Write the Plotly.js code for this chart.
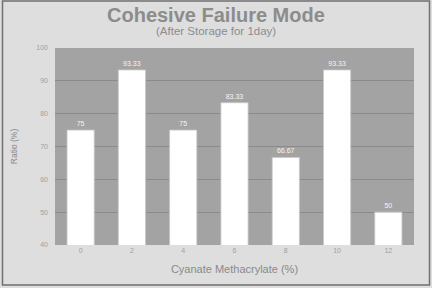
<!DOCTYPE html>
<html><head><meta charset="utf-8">
<script src="https://cdn.plot.ly/plotly-3.0.1.min.js"></script>
<style>html,body{margin:0;padding:0;background:#dedede}#c{width:432px;height:288px}</style>
</head><body><div id="c"></div>
<script>
const categories = ["0", "2", "4", "6", "8", "10", "12"];
const ratios = [75, 93.33, 75, 83.33, 66.67, 93.33, 50];
const valueLabels = ["75", "93.33", "75", "83.33", "66.67", "93.33", "50"];
const yTicks = [40, 50, 60, 70, 80, 90, 100];
const titleText = 'Cohesive Failure Mode';
const subtitleText = '(After Storage for 1day)';

const L = 55, R = 18, T = 48, B = 43, W = 432, H = 288;
const pw = W - L - R, ph = H - T - B;
const px = x => (x - L) / pw;
const py = y => (H - B - y) / ph;
const FONT = 'Arial, Liberation Sans, sans-serif';

Plotly.newPlot('c', [{
  type: 'bar',
  x: categories,
  y: ratios,
  text: valueLabels,
  textposition: 'outside',
  cliponaxis: false,
  textfont: {family: FONT, size: 7, color: '#f4f4f4'},
  marker: {color: '#ffffff', line: {color: '#c8c8c8', width: 0.8}},
  hoverinfo: 'none'
}], {
  width: W, height: H,
  margin: {l: L, r: R, t: T, b: B, pad: 0},
  paper_bgcolor: '#dedede',
  plot_bgcolor: '#a3a3a3',
  bargap: 0.47,
  showlegend: false,
  font: {family: FONT, color: '#9a9a9a'},
  xaxis: {
    type: 'category',
    tickfont: {size: 7, color: '#a0a0a0'},
    ticks: '', showgrid: false, zeroline: false, showline: false,
    title: {text: 'Cyanate Methacrylate (%)', font: {size: 11, color: '#8a8a8a'}, standoff: 12}
  },
  yaxis: {
    range: [40, 100],
    tickvals: yTicks,
    tickfont: {size: 7, color: '#a0a0a0'},
    ticklabelstandoff: 6,
    ticks: '', showgrid: true, gridcolor: '#8a8a8a', gridwidth: 1,
    zeroline: false, showline: false,
    title: {text: 'Ratio (%)', font: {size: 8.5, color: '#8a8a8a'}, standoff: 17}
  },
  annotations: [
    {text: '<b>' + titleText + '</b>', xref: 'paper', yref: 'paper', x: px(216), y: py(15),
     xanchor: 'center', yanchor: 'middle', showarrow: false,
     font: {family: FONT, size: 20, color: '#8c8c8c'}},
    {text: subtitleText, xref: 'paper', yref: 'paper', x: px(216), y: py(31),
     xanchor: 'center', yanchor: 'middle', showarrow: false,
     font: {family: FONT, size: 11.5, color: '#8c8c8c'}}
  ],
  shapes: [{
    type: 'rect', xref: 'paper', yref: 'paper', layer: 'above',
    x0: px(2.5), x1: px(429.5), y0: py(285), y1: py(1),
    line: {color: '#707070', width: 1.5}, fillcolor: 'rgba(0,0,0,0)'
  }]
}, {displayModeBar: false, staticPlot: true});
</script></body></html>
